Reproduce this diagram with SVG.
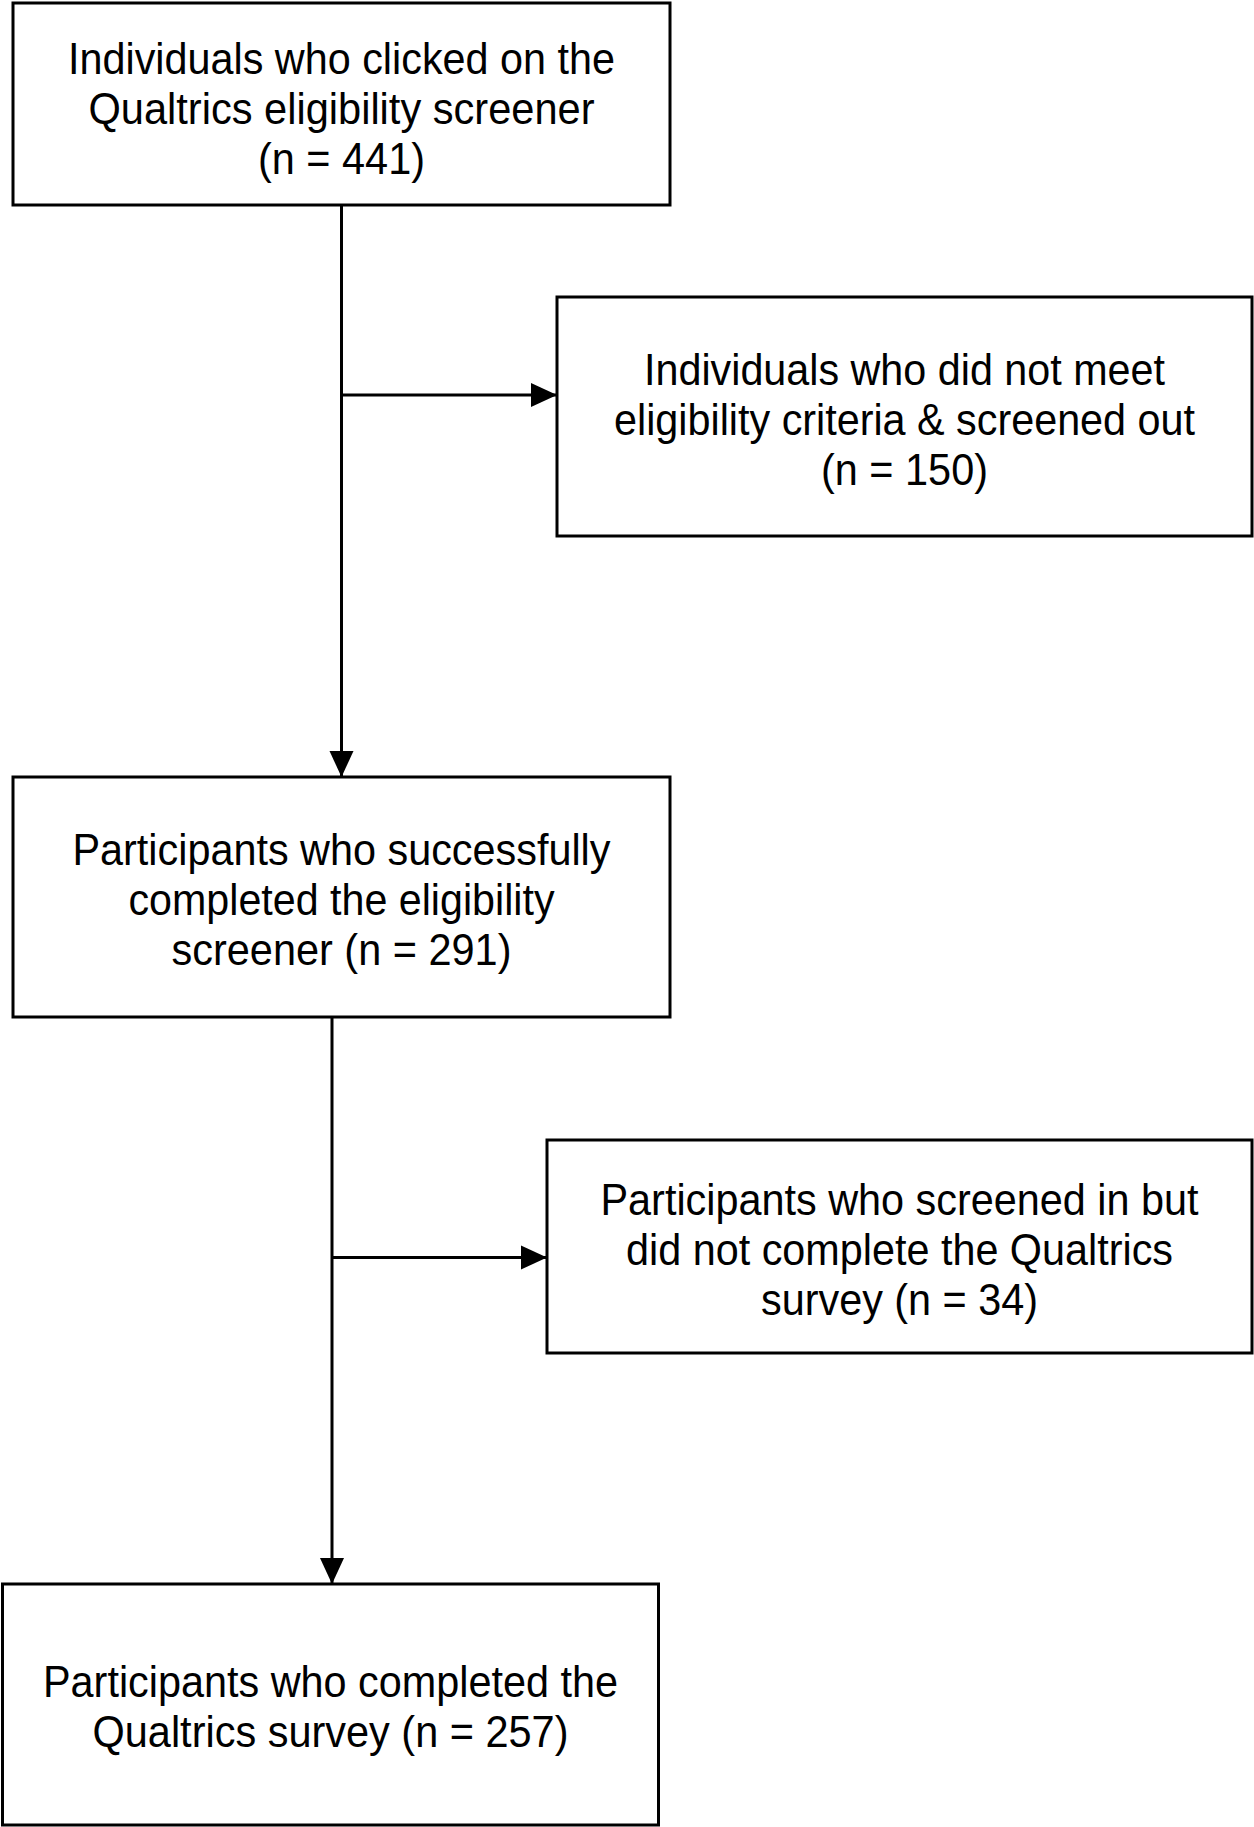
<svg xmlns="http://www.w3.org/2000/svg" width="1254" height="1827" viewBox="0 0 1254 1827">
<style>
.box{fill:#fff;stroke:#000;stroke-width:3}
.t{font-family:"Liberation Sans",Arial,sans-serif;font-size:44px;fill:#000;text-anchor:middle}
.c{stroke:#000;stroke-width:3;fill:none}
</style>
<defs>
<marker id="ah" markerUnits="userSpaceOnUse" markerWidth="28" markerHeight="28" refX="26" refY="14" orient="auto">
<path d="M0,2 L26,14 L0,26 z" fill="#000"/>
</marker>
</defs>
<rect width="1254" height="1827" fill="#fff"/>
<g id="connectors">
<line class="c" x1="341.5" y1="205" x2="341.5" y2="777" marker-end="url(#ah)"/>
<line class="c" x1="341.5" y1="395" x2="557" y2="395" marker-end="url(#ah)"/>
<line class="c" x1="332" y1="1017" x2="332" y2="1584" marker-end="url(#ah)"/>
<line class="c" x1="332" y1="1257.5" x2="547" y2="1257.5" marker-end="url(#ah)"/>
</g>
<g id="n1">
<rect class="box" x="13" y="3" width="657" height="202"/>
<text class="t" x="341.5" y="74" textLength="547" lengthAdjust="spacingAndGlyphs">Individuals who clicked on the</text>
<text class="t" x="341.5" y="124" textLength="506" lengthAdjust="spacingAndGlyphs">Qualtrics eligibility screener</text>
<text class="t" x="341.5" y="174" textLength="167" lengthAdjust="spacingAndGlyphs">(n = 441)</text>
</g>
<g id="n2">
<rect class="box" x="557" y="297" width="695" height="239"/>
<text class="t" x="904.5" y="385" textLength="521" lengthAdjust="spacingAndGlyphs">Individuals who did not meet</text>
<text class="t" x="904.5" y="435" textLength="581" lengthAdjust="spacingAndGlyphs">eligibility criteria &amp; screened out</text>
<text class="t" x="904.5" y="485" textLength="167" lengthAdjust="spacingAndGlyphs">(n = 150)</text>
</g>
<g id="n3">
<rect class="box" x="13" y="777" width="657" height="240"/>
<text class="t" x="341.5" y="865" textLength="538" lengthAdjust="spacingAndGlyphs">Participants who successfully</text>
<text class="t" x="341.5" y="915" textLength="426" lengthAdjust="spacingAndGlyphs">completed the eligibility</text>
<text class="t" x="341.5" y="965" textLength="340" lengthAdjust="spacingAndGlyphs">screener (n = 291)</text>
</g>
<g id="n4">
<rect class="box" x="547" y="1140" width="705" height="213"/>
<text class="t" x="899.5" y="1215" textLength="598" lengthAdjust="spacingAndGlyphs">Participants who screened in but</text>
<text class="t" x="899.5" y="1265" textLength="547" lengthAdjust="spacingAndGlyphs">did not complete the Qualtrics</text>
<text class="t" x="899.5" y="1315" textLength="277" lengthAdjust="spacingAndGlyphs">survey (n = 34)</text>
</g>
<g id="n5">
<rect class="box" x="2.5" y="1584" width="656" height="241"/>
<text class="t" x="330.5" y="1697" textLength="575" lengthAdjust="spacingAndGlyphs">Participants who completed the</text>
<text class="t" x="330.5" y="1747" textLength="476" lengthAdjust="spacingAndGlyphs">Qualtrics survey (n = 257)</text>
</g>
</svg>
